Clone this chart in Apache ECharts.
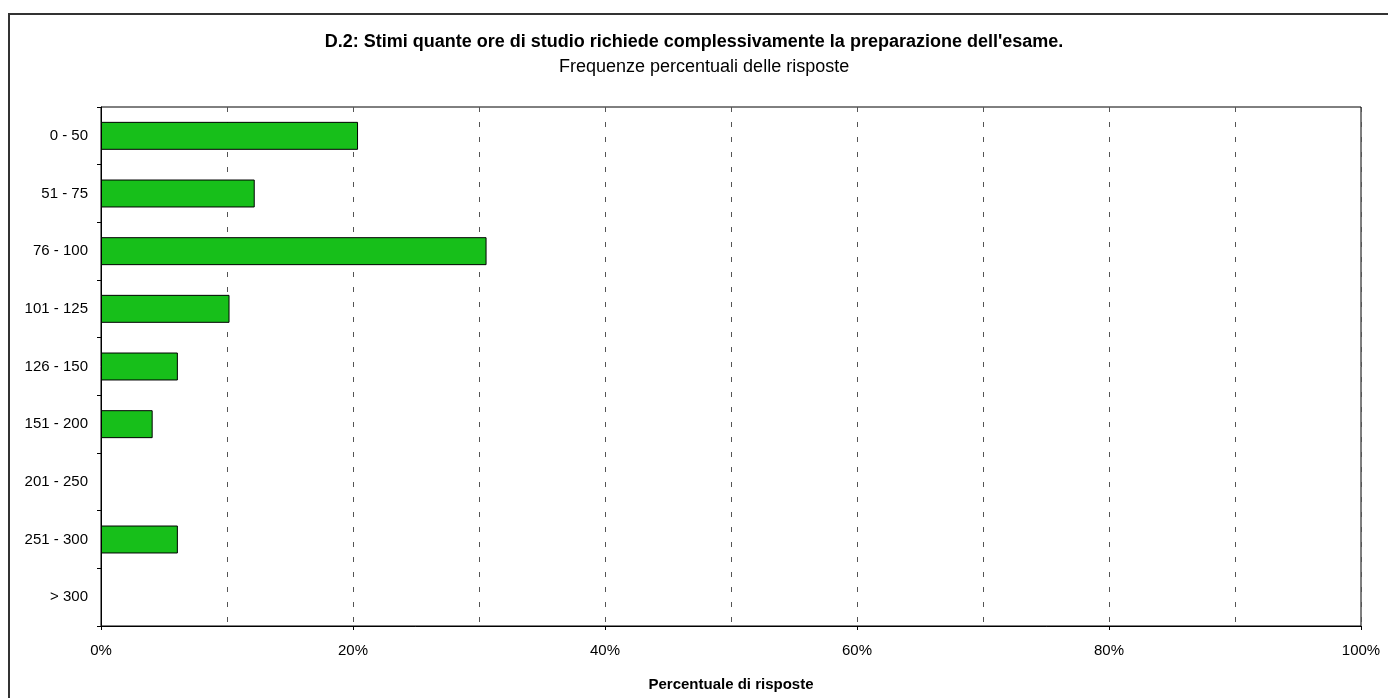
<!DOCTYPE html>
<html>
<head>
<meta charset="utf-8">
<title>D.2</title>
<script src="https://cdn.jsdelivr.net/npm/echarts@6/dist/echarts.min.js"></script>
<style>
  html, body { margin: 0; padding: 0; background: #fff; }
  #chart { width: 1388px; height: 698px; }
</style>
</head>
<body>
<div id="chart"></div>
<script>
// fasce di ore di studio (asse verticale)
const categories = ['0 - 50', '51 - 75', '76 - 100', '101 - 125', '126 - 150', '151 - 200', '201 - 250', '251 - 300', '> 300']
// percentuali delle risposte
const percentages = [20.4, 12.2, 30.6, 10.2, 6.1, 4.1, 0, 6.1, 0]
const xTicks = [0, 20, 40, 60, 80, 100]

const font = '"Liberation Sans", Arial, Helvetica, sans-serif'

const chart = echarts.init(document.getElementById('chart'))

const option = {
  backgroundColor: '#fff',
  animation: false,
  title: [
    {
      text: "D.2: Stimi quante ore di studio richiede complessivamente la preparazione dell'esame.",
      left: 'center',
      top: 28,
      textStyle: { fontFamily: font, fontSize: 18, fontWeight: 'bold', color: '#000' }
    },
    {
      text: 'Frequenze percentuali delle risposte',
      left: 554,
      top: 53,
      textStyle: { fontFamily: font, fontSize: 18, fontWeight: 'normal', color: '#000' }
    }
  ],
  graphic: [
    {
      type: 'polyline',
      shape: { points: [[9, 698], [9, 14], [1388, 14]] },
      style: { stroke: '#333', lineWidth: 2, fill: null },
      silent: true
    }
  ],
  grid: {
    left: 101,
    right: 27,
    top: 107,
    bottom: 72,
    show: true,
    borderColor: '#000',
    borderWidth: 1,
    containLabel: false
  },
  xAxis: {
    type: 'value',
    min: 0,
    max: 100,
    interval: 20,
    name: 'Percentuale di risposte',
    nameLocation: 'middle',
    nameGap: 51,
    nameTextStyle: { fontFamily: font, fontSize: 15, fontWeight: 'bold', color: '#000' },
    axisLine: { show: true, lineStyle: { color: '#000', width: 1 } },
    axisTick: { show: true, length: 4, lineStyle: { color: '#000' } },
    axisLabel: {
      margin: 17,
      fontFamily: font,
      fontSize: 15,
      color: '#000',
      formatter: v => (xTicks.includes(v) ? v + '%' : '')
    },
    splitLine: { show: true, lineStyle: { color: '#555', type: [5, 10], width: 1 } },
    minorTick: { show: false, splitNumber: 2 },
    minorSplitLine: { show: true, lineStyle: { color: '#555', type: [5, 10], width: 1 } }
  },
  yAxis: {
    type: 'category',
    data: categories,
    inverse: true,
    axisLine: { show: true, lineStyle: { color: '#000', width: 1 } },
    axisTick: { show: true, length: 4, lineStyle: { color: '#000' } },
    axisLabel: { margin: 13, fontFamily: font, fontSize: 15, color: '#000' },
    splitLine: { show: false }
  },
  series: [
    {
      type: 'bar',
      // le fasce senza risposte non disegnano alcuna barra
      data: percentages.map(v => (v === 0 ? null : v)),
      barWidth: '48.5%',
      itemStyle: { color: '#17bf1a', borderColor: '#000', borderWidth: 1 },
      silent: true
    }
  ]
}

chart.setOption(option)
window.addEventListener('resize', () => chart.resize())
</script>
</body>
</html>
